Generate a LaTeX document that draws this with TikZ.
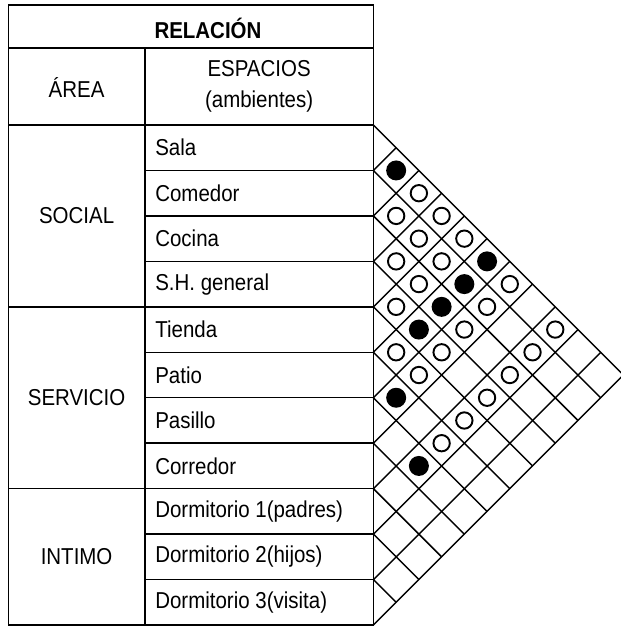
\documentclass[tikz,border=0pt]{standalone}
\usepackage{fontspec}
\setmainfont{Liberation Sans}[FakeStretch=0.89]

\begin{document}
\begin{tikzpicture}[x=0.5cm,y=0.5cm,
  txt/.style={font=\fontsize{14.4}{19.4}\selectfont,inner sep=0pt},
  lleno/.style={fill=black},
  vacio/.style={draw=black,line width=1.2pt}]
\useasboundingbox (-16.43,-0.13) rectangle (10.85,27.5);
\draw[line width=0.9pt] (-16.06,0) rectangle (0,27.28);
\draw[line width=0.9pt] (-16.06,25.39) -- (0,25.39);
\draw[line width=0.9pt] (-16.06,22) -- (0,22);
\draw[line width=0.9pt] (-16.06,14) -- (0,14);
\draw[line width=0.9pt] (-16.06,6) -- (0,6);
\draw[line width=0.9pt] (-10.05,0) -- (-10.05,25.39);
\draw[line width=0.9pt] (-10.05,20) -- (0,20);
\draw[line width=0.9pt] (-10.05,18) -- (0,18);
\draw[line width=0.9pt] (-10.05,16) -- (0,16);
\draw[line width=0.9pt] (-10.05,12) -- (0,12);
\draw[line width=0.9pt] (-10.05,10) -- (0,10);
\draw[line width=0.9pt] (-10.05,8) -- (0,8);
\draw[line width=0.9pt] (-10.05,4) -- (0,4);
\draw[line width=0.9pt] (-10.05,2) -- (0,2);
\node[txt,font=\bfseries\fontsize{14.4}{19.4}\selectfont] (relacion) at (-7.28,26.25) {RELACIÓN};
\node[txt] (area) at (-13.06,23.65) {ÁREA};
\node[txt,align=center] (espacios) at (-5.03,23.7) {ESPACIOS\\(ambientes)};
\node[txt,anchor=west] (sala) at (-9.61,21) {Sala};
\node[txt,anchor=west] (comedor) at (-9.61,19) {Comedor};
\node[txt,anchor=west] (cocina) at (-9.61,17) {Cocina};
\node[txt,anchor=west] (shgeneral) at (-9.61,15) {S.H. general};
\node[txt,anchor=west] (tienda) at (-9.61,13) {Tienda};
\node[txt,anchor=west] (patio) at (-9.61,11) {Patio};
\node[txt,anchor=west] (pasillo) at (-9.61,9) {Pasillo};
\node[txt,anchor=west] (corredor) at (-9.61,7) {Corredor};
\node[txt,anchor=west] (dorm1) at (-9.61,5) {Dormitorio 1(padres)};
\node[txt,anchor=west] (dorm2) at (-9.61,3) {Dormitorio 2(hijos)};
\node[txt,anchor=west] (dorm3) at (-9.61,1) {Dormitorio 3(visita)};
\node[txt] (social) at (-13.06,18) {SOCIAL};
\node[txt] (servicio) at (-13.06,10) {SERVICIO};
\node[txt] (intimo) at (-13.06,3) {INTIMO};
\draw[line width=0.9pt] (0,22) -- (11,11);
\draw[line width=0.9pt] (1,21) -- (0,20) -- (10,10);
\draw[line width=0.9pt] (2,20) -- (0,18) -- (9,9);
\draw[line width=0.9pt] (3,19) -- (0,16) -- (8,8);
\draw[line width=0.9pt] (4,18) -- (0,14) -- (7,7);
\draw[line width=0.9pt] (5,17) -- (0,12) -- (6,6);
\draw[line width=0.9pt] (6,16) -- (0,10) -- (5,5);
\draw[line width=0.9pt] (7,15) -- (0,8) -- (4,4);
\draw[line width=0.9pt] (8,14) -- (0,6) -- (3,3);
\draw[line width=0.9pt] (9,13) -- (0,4) -- (2,2);
\draw[line width=0.9pt] (10,12) -- (0,2) -- (1,1);
\draw[line width=0.9pt] (11,11) -- (0,0);
\fill[lleno] (1,20) circle (0.44);
\fill[lleno] (5,16) circle (0.44);
\fill[lleno] (4,15) circle (0.44);
\fill[lleno] (3,14) circle (0.44);
\fill[lleno] (2,13) circle (0.44);
\fill[lleno] (1,10) circle (0.44);
\fill[lleno] (2,7) circle (0.44);
\draw[vacio] (2,19) circle (0.36);
\draw[vacio] (1,18) circle (0.36);
\draw[vacio] (3,18) circle (0.36);
\draw[vacio] (2,17) circle (0.36);
\draw[vacio] (4,17) circle (0.36);
\draw[vacio] (1,16) circle (0.36);
\draw[vacio] (3,16) circle (0.36);
\draw[vacio] (2,15) circle (0.36);
\draw[vacio] (6,15) circle (0.36);
\draw[vacio] (1,14) circle (0.36);
\draw[vacio] (5,14) circle (0.36);
\draw[vacio] (4,13) circle (0.36);
\draw[vacio] (8,13) circle (0.36);
\draw[vacio] (1,12) circle (0.36);
\draw[vacio] (3,12) circle (0.36);
\draw[vacio] (7,12) circle (0.36);
\draw[vacio] (2,11) circle (0.36);
\draw[vacio] (6,11) circle (0.36);
\draw[vacio] (5,10) circle (0.36);
\draw[vacio] (4,9) circle (0.36);
\draw[vacio] (3,8) circle (0.36);
\end{tikzpicture}
\end{document}
